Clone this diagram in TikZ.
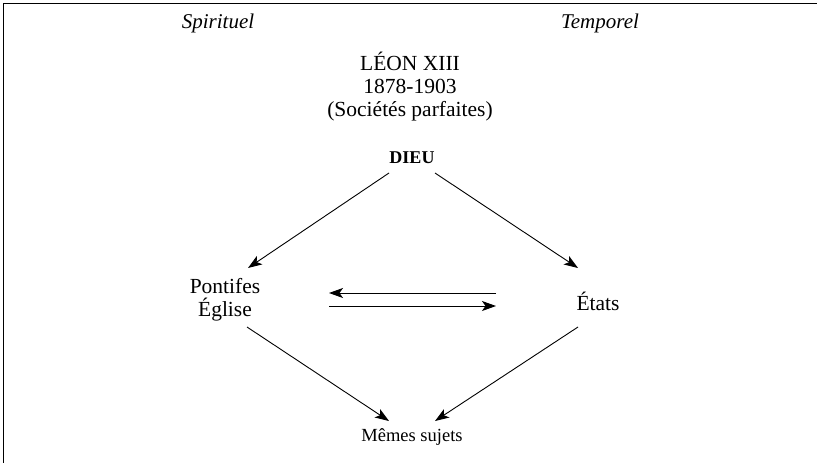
\documentclass[tikz,border=0pt]{standalone}
\usepackage{fontspec}
\setmainfont{Liberation Serif}
\usetikzlibrary{arrows.meta,calc}
\begin{document}
\begin{tikzpicture}[x=1pt,y=-1pt,
  lbl/.style={inner sep=0pt, align=center, font=\fontsize{21.5}{23}\selectfont},
  side/.style={inner sep=0pt, font=\itshape\fontsize{21}{23}\selectfont},
  god/.style={inner sep=0pt, font=\bfseries\fontsize{18}{20}\selectfont},
  small/.style={inner sep=0pt, font=\fontsize{18.5}{20}\selectfont},
  arr/.style={-{Stealth[length=14pt,width=10pt,inset=3.5pt]}, line width=0.9pt},
  frame/.style={line width=1.6pt}]
\useasboundingbox (0,0) rectangle (817,463);
% frame edges (top and left)
\draw[frame] (3.5,463) -- (3.5,3.5) -- (817,3.5);

% column headings
\node[side] (spi) at (218,23) {Spirituel};
\node[side] (tem) at (600,23) {Temporel};

% title block
\node[lbl] (title) at (410,87) {LÉON XIII\\1878-1903\\(Sociétés parfaites)};

% nodes
\node[god] (dieu) at (412,158) {DIEU};
\node[lbl] (pont) at (225,300) {Pontifes\\Église};
\node[lbl] (etats) at (598,301) {États};
\node[small] (memes) at (412,437) {Mêmes sujets};

% God to both powers
\draw[arr] ($(dieu)+(-23,15)$) -- ($(pont)+(23,-32)$);
\draw[arr] ($(dieu)+(23,15)$) -- ($(etats)+(-20,-33)$);

% exchange between Church and States
\draw[arr] ($(etats)+(-102,-8)$) -- ($(pont)+(104,-7)$);
\draw[arr] ($(pont)+(104,6)$) -- ($(etats)+(-102,5)$);

% both powers to the same subjects
\draw[arr] ($(pont)+(22,27)$) -- ($(memes)+(-23,-16)$);
\draw[arr] ($(etats)+(-20,26)$) -- ($(memes)+(23,-16)$);
\end{tikzpicture}
\end{document}
